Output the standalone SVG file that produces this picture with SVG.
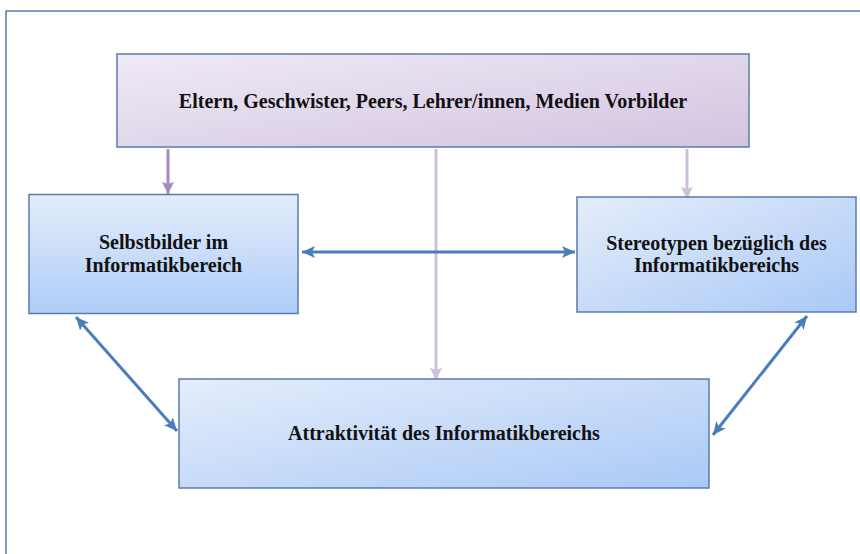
<svg xmlns="http://www.w3.org/2000/svg" width="860" height="554" viewBox="0 0 860 554">
  <defs>
    <linearGradient id="gPurple" x1="0" y1="0" x2="1" y2="1">
      <stop offset="0" stop-color="#efebf6"/>
      <stop offset="1" stop-color="#d3c3e0"/>
    </linearGradient>
    <linearGradient id="gBlue" x1="0" y1="0" x2="1" y2="1">
      <stop offset="0" stop-color="#e5edfb"/>
      <stop offset="1" stop-color="#a9c9f6"/>
    </linearGradient>
    <linearGradient id="gBlueV" x1="0" y1="0" x2="0" y2="1">
      <stop offset="0" stop-color="#e3ecfb"/>
      <stop offset="1" stop-color="#aecdf7"/>
    </linearGradient>
    <marker id="aBlue" markerUnits="userSpaceOnUse" markerWidth="14" markerHeight="12" refX="13" refY="6" orient="auto-start-reverse" viewBox="0 0 14 12">
      <path d="M0,0 L13,6 L0,12 L3,6 z" fill="#4a7ebb"/>
    </marker>
    <marker id="aPurple" markerUnits="userSpaceOnUse" markerWidth="12" markerHeight="12" refX="12" refY="6" orient="auto" viewBox="0 0 12 12">
      <path d="M0,0 L12,6 L0,12 L2,6 z" fill="#a48cc0"/>
    </marker>
    <marker id="aPurpleL" markerUnits="userSpaceOnUse" markerWidth="12" markerHeight="12" refX="12" refY="6" orient="auto" viewBox="0 0 12 12">
      <path d="M0,0 L12,6 L0,12 L2,6 z" fill="#cdbfdc"/>
    </marker>
  </defs>
  <style>
    .box { stroke: #5a7bab; stroke-width: 1.5; }
    .lbl { font-family: "Liberation Serif", "Times New Roman", serif; font-weight: bold; font-size: 20px; fill: #111; text-anchor: middle; }
    .blue { stroke: #4a7ebb; stroke-width: 3; fill: none; marker-start: url(#aBlue); marker-end: url(#aBlue); }
  </style>
  <rect x="0" y="0" width="860" height="554" fill="#ffffff"/>
  <rect id="frame" x="6" y="11" width="900" height="600" fill="none" stroke="#5b7aa6" stroke-width="1.5"/>

  <g id="connectors">
    <line x1="168" y1="149" x2="168" y2="194" stroke="#a48cc0" stroke-width="3" marker-end="url(#aPurple)"/>
    <line x1="436" y1="149" x2="436" y2="380" stroke="#cdbfdc" stroke-width="3" marker-end="url(#aPurpleL)"/>
    <line x1="687" y1="149" x2="687" y2="199" stroke="#cdbfdc" stroke-width="3" marker-end="url(#aPurpleL)"/>
    <line class="blue" x1="302" y1="252" x2="575" y2="252"/>
    <line class="blue" x1="76" y1="317" x2="177" y2="431"/>
    <line class="blue" x1="807" y1="316" x2="713" y2="435"/>
  </g>

  <g id="n-top">
    <rect class="box" x="117" y="54" width="632" height="93" fill="url(#gPurple)"/>
    <text class="lbl" x="433" y="108">Eltern, Geschwister, Peers, Lehrer/innen, Medien Vorbilder</text>
  </g>
  <g id="n-selbst">
    <rect class="box" x="29" y="194.5" width="269" height="119" fill="url(#gBlueV)"/>
    <text class="lbl" x="163.5" y="249">Selbstbilder im</text>
    <text class="lbl" x="163.5" y="271.5">Informatikbereich</text>
  </g>
  <g id="n-stereo">
    <rect class="box" x="577" y="197" width="279" height="115" fill="url(#gBlue)"/>
    <text class="lbl" x="716.5" y="250">Stereotypen bezüglich des</text>
    <text class="lbl" x="716.5" y="271.5">Informatikbereichs</text>
  </g>
  <g id="n-attr">
    <rect class="box" x="179" y="379" width="530" height="109" fill="url(#gBlue)"/>
    <text class="lbl" x="444" y="440">Attraktivität des Informatikbereichs</text>
  </g>
</svg>
